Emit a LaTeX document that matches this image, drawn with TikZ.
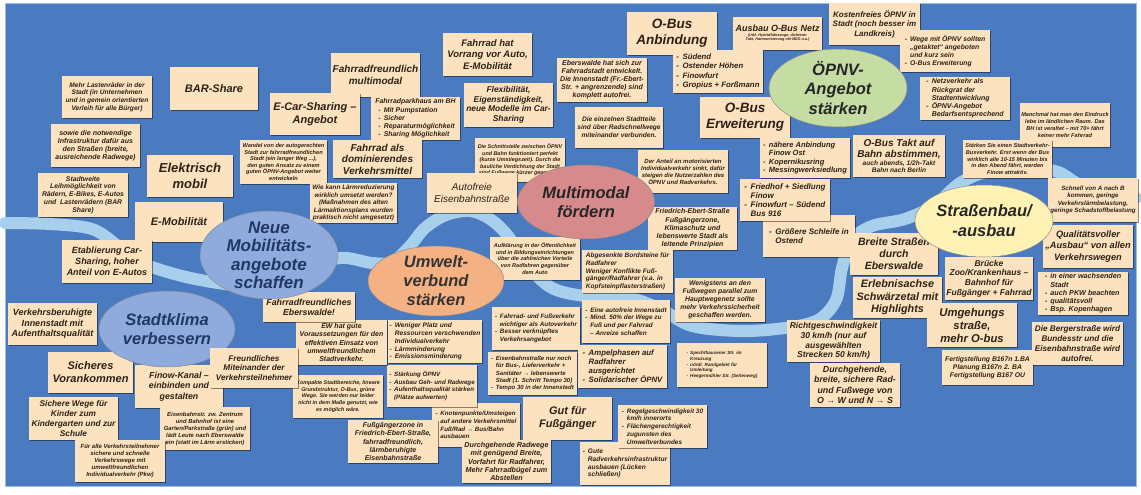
\documentclass[tikz,border=0pt]{standalone}
\usepackage{fontspec}
\setmainfont{Liberation Sans}
\usetikzlibrary{shapes.geometric,shadows}
\definecolor{bg}{HTML}{4A7BC0}
\definecolor{frame}{HTML}{9DBBE3}
\definecolor{river}{HTML}{A8D0EC}
\definecolor{boxfill}{HTML}{FDE2BF}
\definecolor{boxtext}{HTML}{2B2116}
\definecolor{elblue}{HTML}{8FAADC}
\definecolor{elnavy}{HTML}{1F3864}
\definecolor{elorange}{HTML}{F4B183}
\definecolor{elrose}{HTML}{D68A8B}
\definecolor{elgreen}{HTML}{C5DCA2}
\definecolor{elyellow}{HTML}{FFF2B5}
\tikzset{
  box/.style={fill=boxfill, inner sep=1.2pt, text=boxtext,
    drop shadow={shadow xshift=0.9pt, shadow yshift=-1.1pt, opacity=0.45, fill=black}},
  ell/.style={ellipse, draw=black!45, line width=0.5pt, inner sep=0pt},
  eltext/.style={align=center, inner sep=0pt, font=\fontsize{16.5}{19.5}\selectfont\bfseries\itshape},
  riverline/.style={draw=river, line width=12pt, line cap=round, line join=round},
}
\newcommand\bxx[9]{%
  \pgfmathsetmacro\bxw{#5-#3}\pgfmathsetmacro\bxh{#6-#4}%
  \pgfmathsetmacro\bxcx{(#3+#5)/2}\pgfmathsetmacro\bxcy{(#4+#6)/2}%
  \node[box,#1,minimum width=\bxw pt,minimum height=\bxh pt,
    font=\fontsize{#7}{#8}\selectfont\bfseries\itshape] (#2) at (\bxcx,\bxcy) {#9};}
\newcommand\bx{\bxx{align=center}}
\newcommand\bxl{\bxx{align=left}}
\newcommand\bul{-\hspace{0.45em}}
\newcommand\ind{\hphantom{-\hspace{0.45em}}}
\begin{document}
\begin{tikzpicture}[x=1pt,y=-1pt]
\useasboundingbox (0,0) rectangle (1141,495);
\fill[white] (0,0) rectangle (1141,495);
\fill[bg] (5,3) rectangle (1137,487);
\draw[frame, line width=0.8pt] (5.4,3.4) rectangle (1136.6,486.6);

% river
\draw[riverline] plot[smooth, tension=0.55] coordinates {(5,223) (50,224) (92,229) (118,246) (142,263) (178,275) (218,283) (258,286) (300,270) (340,258) (372,263) (392,262) (410,246) (425,228) (446,215) (470,211) (490,219) (508,236) (528,266) (552,288) (585,296) (630,298) (662,310) (692,326) (740,331) (785,328) (818,320) (836,300) (842,268) (852,240) (872,226) (905,219) (935,205) (960,183) (990,171) (1030,168) (1058,172) (1080,185) (1110,195) (1136,198)};

% boxes, top-left area
\bx{lasten}{62}{76}{152}{118}{6.6}{7.7}{Mehr Lastenräder in der\\Stadt (in Unternehmen\\und in gemein orientierten\\Verleih für alle Bürger)}
\bx{bar}{170}{67}{258}{110}{11}{13}{BAR-Share}
\bx{sowie}{51}{124}{140}{167}{7}{8.2}{sowie die notwendige\\Infrastruktur dafür aus\\den Straßen (breite,\\ausreichende Radwege)}
\bx{fahrfreund}{331}{53}{420}{97}{10}{11.8}{Fahrradfreundlich\\multimodal}
\bx{ecar}{270}{93}{360}{135}{11}{13}{E-Car-Sharing –\\Angebot}
\bxl{parkhaus}{371}{97}{460}{140}{6.9}{8.2}{Fahrradparkhaus am BH\\\hspace*{3pt}\bul Mit Pumpstation\\\hspace*{3pt}\bul Sicher\\\hspace*{3pt}\bul Reparaturmöglichkeit\\\hspace*{3pt}\bul Sharing Möglichkeit}
\bx{elektr}{147}{155}{233}{197}{13}{15.5}{Elektrisch\\mobil}
\bx{wandel}{240}{140}{327}{184}{5.6}{6.6}{Wandel von der autogerechten\\Stadt zur fahrradfreundlichen\\Stadt (ein langer Weg ...),\\den guten Ansatz zu einem\\guten ÖPNV-Angebot weiter\\entwickeln}
\bx{stadtweite}{38}{173}{128}{217}{6.8}{7.8}{Stadtweite\\Leihmöglichkeit von\\Rädern, E-Bikes, E-Autos\\und \ Lastenrädern (BAR\\Share)}
\bx{emob}{135}{202}{223}{242}{11}{13}{E-Mobilität}
\bx{etab}{62}{240}{152}{283}{9}{11}{Etablierung Car-\\Sharing, hoher\\Anteil von E-Autos}
\bx{vorrang}{443}{33}{532}{76}{9.5}{11.2}{Fahrrad hat\\Vorrang vor Auto,\\E-Mobilität}
\bx{flex}{464}{83}{553}{127}{8.4}{9.6}{Flexibilität,\\Eigenständigkeit,\\neue Modelle im Car-\\Sharing}
\bx{dominier}{333}{140}{422}{178}{10}{11.5}{Fahrrad als\\dominierendes\\Verkehrsmittel}
\bx{schnitt}{475}{138}{565}{182}{5.4}{6.4}{Die Schnittstelle zwischen ÖPNV\\und Bahn funktioniert perfekt\\(kurze Umstiegszeit). Durch die\\bauliche Verdichtung der Stadt\\sind Fußwege kürzer geworden.}
\bx{laerm}{310}{183}{397}{223}{6.4}{7.5}{Wie kann Lärmreduzierung\\wirklich umsetzt werden?\\(Maßnahmen des alten\\Lärmaktionsplans wurden\\praktisch nicht umgesetzt)}
\bx{autofrei}{427}{173}{517}{213}{10}{12}{\mdseries Autofreie\\\mdseries Eisenbahnstraße}

% top middle / right
\bx{obusanb}{627}{12}{717}{55}{13.5}{16}{O-Bus\\Anbindung}
\bx{ausbau}{733}{17}{822}{50}{9}{10.5}{\parbox{86pt}{\centering Ausbau O-Bus Netz\par\fontsize{3.8}{4.6}\selectfont (inkl. Hybridfahrzeuge, dichterer\\Takt, Harmonisierung mit BEG u.a.)}}
\bxl{suedend}{673}{50}{763}{93}{7.8}{9.4}{\bul Südend\\\bul Ostender Höhen\\\bul Finowfurt\\\bul Gropius + Forßmann}
\bx{eberswalde}{557}{58}{647}{102}{7}{8}{Eberswalde hat sich zur\\Fahrradstadt entwickelt.\\Die Innenstadt (Fr.-Ebert-\\Str. + angrenzende) sind\\komplett autofrei.}
\bx{obuserw}{700}{97}{790}{138}{13.5}{16}{O-Bus\\Erweiterung}
\bx{einzeln}{575}{107}{663}{148}{6.6}{8}{Die einzelnen Stadtteile\\sind über Radschnellwege\\miteinander verbunden.}
\bxl{naehere}{760}{138}{850}{178}{7.5}{8.5}{\bul nähere Anbindung\\\ind Finow Ost\\\bul Kopernikusring\\\bul Messingwerksiedlung}
\bx{anteil}{638}{150}{728}{193}{6}{7}{Der Anteil an motorisierten\\Individualverkehr sinkt, dafür\\steigen die Nutzerzahlen des\\ÖPNV und Radverkehrs.}
\bx{kostenfrei}{829}{3}{920}{45}{8}{9.5}{Kostenfreies ÖPNV in\\Stadt (noch besser im\\Landkreis)}
\bxl{wege}{900}{30}{990}{72}{6.8}{8}{\bul Wege mit ÖPNV sollten\\\ind „getaktet“ angeboten\\\ind und kurz sein\\\bul O-Bus Erweiterung}
\bxl{netz}{920}{77}{1010}{120}{7}{8.2}{\bul Netzverkehr als\\\ind Rückgrat der\\\ind Stadtentwicklung\\\bul ÖPNV-Angebot\\\ind Bedarfsentsprechend}
\bx{manchmal}{1020}{103}{1110}{147}{5.6}{6.8}{Manchmal hat man den Eindruck\\lebe im ländlichen Raum. Das\\BH ist veraltet – mit 70+ fährt\\keiner mehr Fahrrad}
\bx{takt}{853}{135}{945}{177}{10}{11.5}{\parbox{88pt}{\centering O-Bus Takt auf\\Bahn abstimmen,\par\fontsize{6.6}{7.6}\selectfont auch abends, 1/2h-Takt\\Bahn nach Berlin}}
\bx{staerken}{963}{140}{1052}{178}{5.6}{6.6}{Stärken Sie einen Stadtverkehr-\\Busverkehr. Erst wenn der Bus\\wirklich alle 10-15 Minuten bis\\in den Abend fährt, werden\\Finow attraktiv.}
\bxl{schleife}{763}{215}{855}{257}{8}{9.5}{\bul Größere Schleife in\\\ind Ostend}
\bxl{friedhof}{740}{179}{830}{221}{8}{9}{\bul Friedhof + Siedlung\\\ind Finow\\\bul Finowfurt – Südend\\\ind Bus 916}
\bx{frebert}{648}{207}{737}{250}{7}{8.2}{Friedrich-Ebert-Straße\\Fußgängerzone,\\Klimaschutz und\\lebenswerte Stadt als\\leitende Prinzipien}
\bx{aufklaer}{490}{237}{580}{280}{5.5}{6.6}{Aufklärung in der Öffentlichkeit\\und in Bildungseinrichtungen\\über die zahlreichen Vorteile\\von Radfahren gegenüber\\dem Auto}
\bxl{abgesenkt}{582}{250}{673}{293}{6.5}{7.6}{Abgesenkte Bordsteine für\\Radfahrer\\Weniger Konflikte Fuß-\\gänger/Radfahrer (v.a. in\\Kopfsteinpflasterstraßen)}
\bx{wenigstens}{675}{278}{765}{322}{6.8}{8}{Wenigstens an den\\Fußwegen parallel zum\\Hauptwegenetz sollte\\mehr Verkehrssicherheit\\geschaffen werden.}
\bxl{autofreiinn}{582}{300}{670}{343}{6.4}{7.6}{\bul Eine autofreie Innenstadt\\\bul Mind. 50\% der Wege zu\\\ind Fuß und per Fahrrad\\\ind – Anreize schaffen}
\bxl{fuss}{492}{307}{580}{350}{6.3}{7.6}{\bul Fahrrad- und Fußverkehr\\\ind wichtiger als Autoverkehr\\\bul Besser verknüpftes\\\ind Verkehrsangebot}

% right area
\bx{schnell}{1048}{178}{1138}{222}{6.2}{7.5}{Schnell von A nach B\\kommen, geringe\\Verkehrslärmbelastung,\\geringe Schadstoffbelastung}
\bx{qualitaet}{1043}{225}{1133}{268}{9.2}{11.2}{Qualitätsvoller\\„Ausbau“ von allen\\Verkehrswegen}
\bx{breite}{850}{233}{938}{275}{10.5}{12.2}{Breite Straßen\\durch\\Eberswalde}
\bx{bruecke}{945}{257}{1033}{300}{8.5}{9.8}{Brücke\\Zoo/Krankenhaus –\\Bahnhof für\\Fußgänger + Fahrrad}
\bxl{wachsend}{1038}{272}{1128}{315}{7.2}{8.2}{\bul in einer wachsenden\\\ind Stadt\\\bul auch PKW beachten\\\bul qualitätsvoll\\\bul Bsp. Kopenhagen}
\bx{erlebnis}{853}{277}{942}{318}{10.8}{12.5}{Erlebnisachse\\Schwärzetal mit\\Highlights}
\bx{umgehung}{927}{303}{1017}{347}{11.3}{13}{Umgehungs\\straße,\\mehr O-bus}
\bx{fertig}{942}{350}{1033}{385}{6.8}{8}{Fertigstellung B167n 1.BA\\Planung B167n 2. BA\\Fertigstellung B167 OU}
\bx{berger}{1032}{322}{1123}{365}{8.2}{9.8}{Die Bergerstraße wird\\Bundesstr und die\\Eisenbahnstraße wird\\autofrei.}
\bx{richtg}{787}{320}{880}{362}{8.5}{9.8}{Richtgeschwindigkeit\\30 km/h (nur auf\\ausgewählten\\Strecken 50 km/h)}
\bx{durchg}{810}{363}{900}{407}{8.8}{10.3}{Durchgehende,\\breite, sichere Rad-\\und Fußwege von\\O → W und N → S}
\bxl{specht}{677}{343}{767}{387}{4.6}{5.8}{\bul Spechthausener Str. im\\\ind Kreuzung\\\bul nördl. Randgebiet für\\\ind Umleitung\\\bul Heegermühler Str. (Seitenweg)}

% bottom middle
\bxl{ampel}{578}{345}{667}{388}{7.8}{9}{\bul Ampelphasen auf\\\ind Radfahrer\\\ind ausgerichtet\\\bul Solidarischer ÖPNV}
\bxl{eisenb}{488}{352}{577}{395}{6}{7.4}{\bul Eisenbahnstraße nur noch\\\ind für Bus-, Lieferverkehr +\\\ind Sanitäter → lebenswerte\\\ind Stadt (1. Schritt Tempo 30)\\\bul Tempo 30 in der Innenstadt}
\bx{gut}{523}{397}{612}{440}{11}{13}{Gut für\\Fußgänger}
\bxl{gute}{580}{442}{670}{485}{6.6}{7.8}{\bul Gute\\\ind Radverkehrsinfrastruktur\\\ind ausbauen (Lücken\\\ind schließen)}
\bxl{regel}{618}{405}{707}{448}{6.4}{7.8}{\bul Regelgeschwindigkeit 30\\\ind km/h innerorts\\\bul Flächengerechtigkeit\\\ind zugunsten des\\\ind Umweltverbundes}
\bxl{knoten}{432}{403}{520}{447}{6.2}{7.6}{\bul Knotenpunkte/Umsteigen\\\ind auf andere Verkehrsmittel\\\ind Fuß/Rad → Bus/Bahn\\\ind ausbauen}
\bx{fussg}{348}{420}{438}{463}{7}{8.2}{Fußgängerzone in\\Friedrich-Ebert-Straße,\\fahrradfreundlich,\\lärmberuhigte\\Eisenbahnstraße}
\bx{durchrad}{462}{440}{551}{483}{7.2}{8.3}{Durchgehende Radwege\\mit genügend Breite,\\Vorfahrt für Radfahrer,\\Mehr Fahrradbügel zum\\Abstellen}
\bxl{staerkung}{387}{365}{477}{407}{6.2}{7.6}{\bul Stärkung ÖPNV\\\bul Ausbau Geh- und Radwege\\\bul Aufenthaltsqualität stärken\\\ind (Plätze aufwerten)}
\bxl{weniger}{388}{320}{482}{363}{6.6}{7.8}{\bul Weniger Platz und\\\ind Ressourcen verschwenden\\\ind Individualverkehr\\\bul Lärmminderung\\\bul Emissionsminderung}
\bx{ew}{296}{320}{387}{365}{7}{8.2}{EW hat gute\\Voraussetzungen für den\\effektiven Einsatz von\\umweltfreundlichem\\Stadtverkehr.}
\bx{kompakt}{293}{375}{383}{418}{5.4}{6.6}{Kompakte Stadtbereiche, lineare\\Grundstruktur, O-Bus, grüne\\Wege. Sie werden nur leider\\nicht in dem Maße genutzt, wie\\es möglich wäre.}
\bx{fahrfreundew}{263}{292}{355}{322}{8.8}{10.2}{Fahrradfreundliches\\Eberswalde!}

% bottom left
\bx{verkehrsber}{8}{303}{97}{345}{9}{10.5}{Verkehrsberuhigte\\Innenstadt mit\\Aufenthaltsqualität}
\bx{sicheres}{48}{352}{133}{393}{11}{13}{Sicheres\\Vorankommen}
\bx{finow}{135}{365}{223}{408}{8.8}{10.3}{Finow-Kanal –\\einbinden und\\gestalten}
\bx{sicherewege}{29}{397}{118}{440}{8.3}{9.8}{Sichere Wege für\\Kinder zum\\Kindergarten und zur\\Schule}
\bx{eisenbahnstr}{160}{407}{250}{450}{5.9}{7}{Eisenbahnstr. zw. Zentrum\\und Bahnhof ist eine\\Garten/Parkstraße (grün) und\\lädt Leute nach Eberswalde\\ein (statt im Lärm ersticken)}
\bx{fueralle}{75}{440}{165}{482}{6}{7.2}{Für alle Verkehrsteilnehmer\\sichere und schnelle\\Verkehrswege mit\\umweltfreundlichen\\Individualverkehr (Pkw)}

% main ellipses
\node[ell, fill=elgreen, minimum width=138pt, minimum height=78pt] (oepnvE) at (838,88) {};
\node[eltext, text=black!85] (oepnv) at (oepnvE.center) {ÖPNV-\\Angebot\\stärken};
\node[ell, fill=elrose, minimum width=137pt, minimum height=74pt] (multiE) at (586,202) {};
\node[eltext, text=black!85] (multi) at (multiE.center) {Multimodal\\fördern};
\node[ell, fill=elblue, minimum width=138pt, minimum height=88pt] (neueE) at (269,255) {};
\node[eltext, text=elnavy, font=\fontsize{17}{18.5}\selectfont\bfseries\itshape] (neue) at (neueE.center) {Neue\\Mobilitäts-\\angebote\\schaffen};
\node[ell, fill=elorange, minimum width=136pt, minimum height=70pt] (umweltE) at (436,281) {};
\node[eltext, text=black!80, font=\fontsize{16.5}{19}\selectfont\bfseries\itshape] (umwelt) at (umweltE.center) {Umwelt-\\verbund\\stärken};
\node[ell, fill=elblue, minimum width=136pt, minimum height=76pt] (klimaE) at (167,329) {};
\node[eltext, text=elnavy] (klima) at (klimaE.center) {Stadtklima\\verbessern};
\node[ell, fill=elyellow, minimum width=138pt, minimum height=72pt] (strasseE) at (984,221) {};
\node[eltext, text=black!85, font=\fontsize{16.5}{20}\selectfont\bfseries\itshape] (strasse) at (strasseE.center) {Straßenbau/\\-ausbau};

% box lying over the Stadtklima ellipse
\bx{freundlich}{210}{348}{298}{388}{8.2}{9.4}{Freundliches\\Miteinander der\\Verkehrsteilnehmer}
\end{tikzpicture}
\end{document}
